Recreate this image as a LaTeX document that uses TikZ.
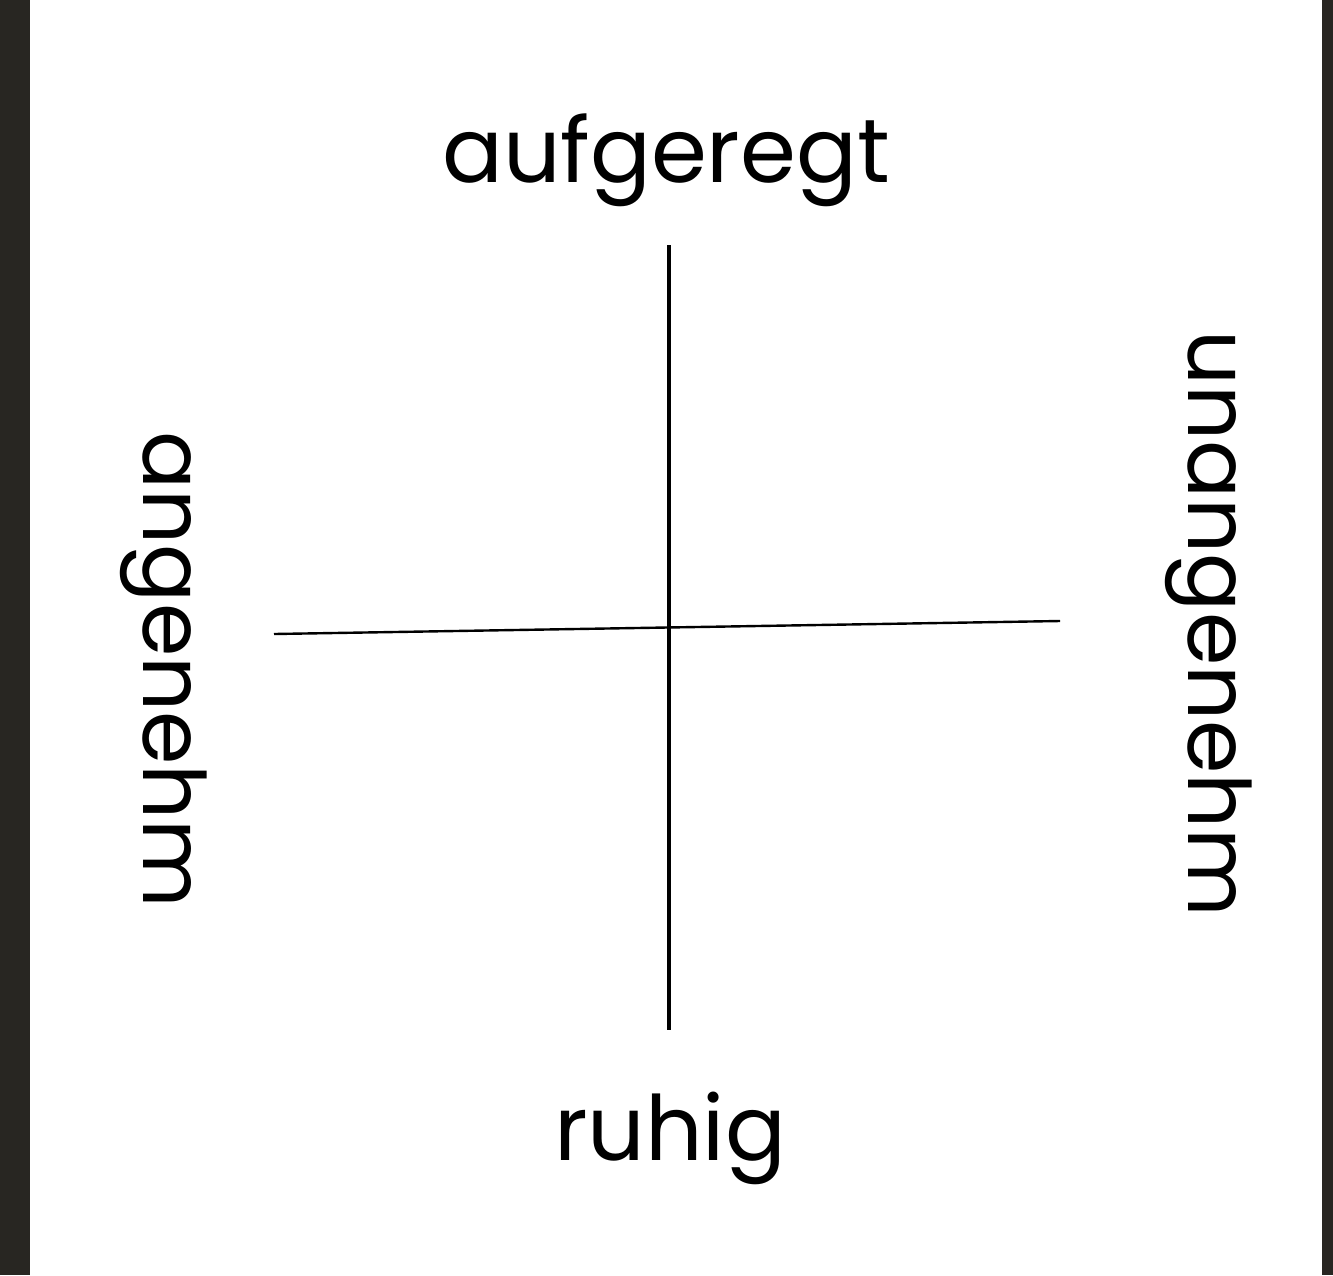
\documentclass[tikz,border=0pt]{standalone}
\usepackage{fontspec}
\setmainfont{Poppins}
\definecolor{band}{HTML}{282622}
\begin{document}
\begin{tikzpicture}[x=0.5pt,y=-0.5pt,
  lbl/.style={font=\fontsize{45}{54}\selectfont, inner sep=0pt, anchor=base},
  vlbl/.style={lbl, font=\fontsize{43}{52}\selectfont, rotate=-90},
  axis/.style={draw=black}]
\useasboundingbox (0,0) rectangle (1333,1275);
\fill[white] (0,0) rectangle (1333,1275);
\fill[band] (0,0) rectangle (30,1275);
\fill[band] (1322,0) rectangle (1333,1275);
\coordinate (vt) at (669,245);
\coordinate (vb) at (669,1030);
\coordinate (hl) at (274,634);
\coordinate (hr) at (1060,621);
\draw[axis, line width=2.4pt] (vt) -- (vb);
\draw[axis, line width=1.2pt] (hl) -- (hr);
\node[lbl] (up) at (666,182) {aufgeregt};
\node[lbl] (down) at (670,1160) {ruhig};
\node[vlbl] (left) at (143,670) {angenehm};
\node[vlbl] (right) at (1188,624) {unangenehm};
\end{tikzpicture}
\end{document}
